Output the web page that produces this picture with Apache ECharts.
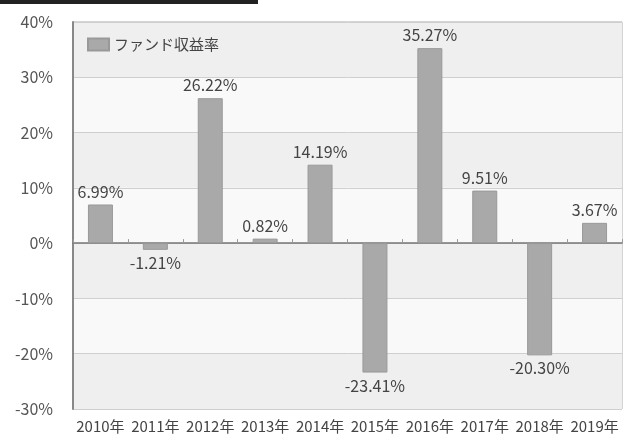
<!DOCTYPE html>
<html>
<head>
    <meta charset="UTF-8">
    <script src="https://cdn.jsdelivr.net/npm/echarts@6/dist/echarts.min.js"></script>
    <title>ファンド収益率</title>
    <style>
        html, body { margin: 0; padding: 0; background: #fff; }
        #chart { width: 625px; height: 438px; }
    </style>
</head>
<body>
<div id="chart"></div>
<script>
    // 年度と収益率(%)
    var years = ['2010年', '2011年', '2012年', '2013年', '2014年', '2015年', '2016年', '2017年', '2018年', '2019年'];
    var fundReturns = [6.99, -1.21, 26.22, 0.82, 14.19, -23.41, 35.27, 9.51, -20.30, 3.67];
    var seriesName = 'ファンド収益率';

    var font = '"Noto Sans CJK JP", "Noto Sans", sans-serif';

    var chart = echarts.init(document.getElementById('chart'));
    chart.setOption({
        backgroundColor: '#fff',
        animation: false,
        graphic: [{
            type: 'rect',
            left: 0,
            top: 0,
            shape: { width: 258, height: 4 },
            style: { fill: '#222' }
        }],
        legend: {
            left: 82,
            top: 32,
            itemWidth: 21,
            itemHeight: 12,
            itemGap: 4,
            icon: 'rect',
            textStyle: { fontFamily: font, fontSize: 15, color: '#444' },
            data: [seriesName]
        },
        grid: {
            left: 73,
            right: 3,
            top: 22,
            bottom: 29,
            show: true,
            borderColor: '#aaa',
            borderWidth: 1
        },
        xAxis: [
            {
                type: 'category',
                data: years,
                position: 'bottom',
                axisLine: { onZero: false, show: false },
                axisTick: { show: false },
                axisLabel: { interval: 0, fontFamily: font, fontSize: 15, color: '#444', margin: 10 }
            },
            {
                type: 'category',
                data: years,
                position: 'top',
                axisLine: { onZero: true, lineStyle: { color: '#777', width: 1.5 } },
                axisTick: { show: true, length: 4, lineStyle: { color: '#999' } },
                axisLabel: { show: false }
            }
        ],
        yAxis: {
            type: 'value',
            min: -30,
            max: 40,
            interval: 10,
            axisLine: { show: true, lineStyle: { color: '#888', width: 2 } },
            axisTick: { show: false },
            axisLabel: {
                formatter: '{value}%',
                fontFamily: font,
                fontSize: 16,
                color: '#555',
                margin: 20
            },
            splitLine: { lineStyle: { color: '#cfcfcf' } },
            splitArea: { show: true, areaStyle: { color: ['#efefef', '#f9f9f9'] } }
        },
        series: [{
            name: seriesName,
            type: 'bar',
            xAxisIndex: 0,
            barWidth: 25,
            data: fundReturns,
            itemStyle: { color: '#a9a9a9', borderColor: '#999', borderWidth: 1 },
            label: {
                show: true,
                position: 'outside',
                distance: 5,
                formatter: function (p) { return p.value.toFixed(2) + '%'; },
                fontFamily: font,
                fontSize: 16,
                color: '#444'
            }
        }]
    });
</script>
</body>
</html>
